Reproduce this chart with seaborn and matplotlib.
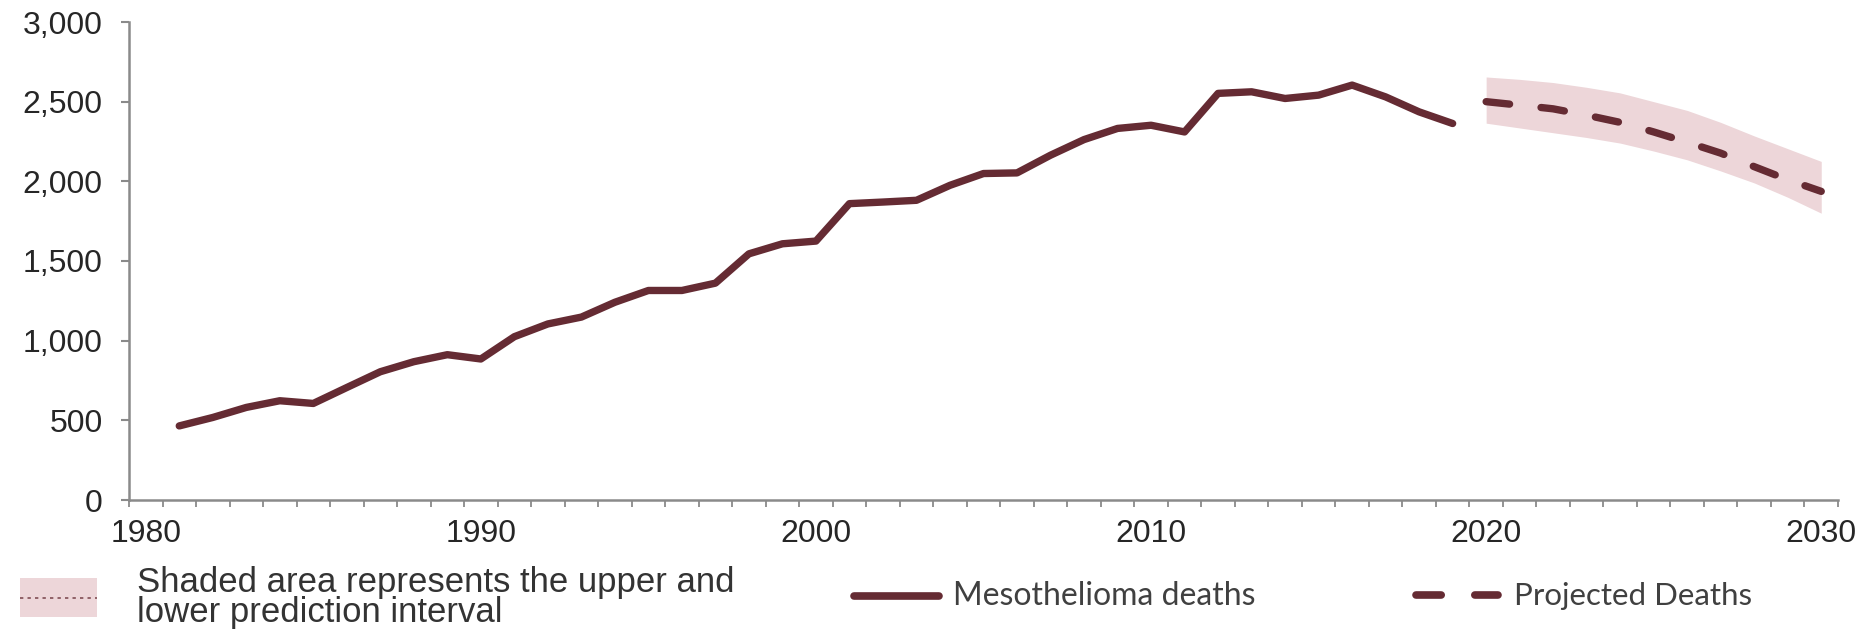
import numpy as np
import pandas as pd
import matplotlib
matplotlib.use("Agg")
import matplotlib.pyplot as plt
from matplotlib.lines import Line2D
from matplotlib.patches import Rectangle
from matplotlib.ticker import FixedLocator, FuncFormatter
import seaborn as sns

# --- data ---
years = list(range(1981, 2020))
deaths = [465, 518, 581, 623, 606, 706, 805, 868, 912, 885,
          1025, 1105, 1148, 1241, 1315, 1315, 1361, 1545, 1608, 1625,
          1860, 1870, 1881, 1975, 2049, 2053, 2164, 2262, 2332, 2352,
          2310, 2552, 2562, 2520, 2541, 2604, 2530, 2436, 2363]

proj_years = list(range(2020, 2031))
proj_deaths = [2500, 2478, 2455, 2415, 2370, 2310, 2245, 2177, 2092, 2010, 1937]
proj_upper = [2655, 2640, 2620, 2590, 2555, 2500, 2445, 2370, 2285, 2205, 2125]
proj_lower = [2365, 2335, 2305, 2275, 2240, 2190, 2135, 2065, 1990, 1900, 1800]

x_labels = [1980, 1990, 2000, 2010, 2020, 2030]
y_ticks = [0, 500, 1000, 1500, 2000, 2500, 3000]

legend_shade = ["Shaded area represents the upper and", "lower prediction interval"]
legend_hist = "Mesothelioma deaths"
legend_proj = "Projected Deaths"

LINE = "#652b33"
BAND = "#edd6d9"
AXIS = "#8a8a8a"

sns.set_style("ticks")
plt.rcParams["font.family"] = ["Liberation Sans", "DejaVu Sans"]

W, H = 1872, 635
fig = plt.figure(figsize=(W / 100, H / 100), dpi=100)
ax = fig.add_axes([129 / W, 1 - 500 / H, (1838 - 129) / W, (500 - 22) / H])


def fx(x, y):
    # pixel position -> figure fraction
    return x / W, 1 - y / H


hist = pd.DataFrame({"year": years, "deaths": deaths})
proj = pd.DataFrame({"year": proj_years, "deaths": proj_deaths,
                     "upper": proj_upper, "lower": proj_lower})

ax.fill_between(proj["year"], proj["lower"], proj["upper"], color=BAND, lw=0, zorder=1)
sns.lineplot(data=hist, x="year", y="deaths", ax=ax, color=LINE, lw=5.3,
             solid_joinstyle="round", solid_capstyle="round", zorder=3)
sns.lineplot(data=proj, x="year", y="deaths", ax=ax, color=LINE, lw=5.3, zorder=3)
pl = ax.lines[-1]
pl.set_dashes((3.2, 4.3))
pl.set_dash_capstyle("round")

ax.set_xlim(1979.5, 2030.5)
ax.set_ylim(0, 3000)
ax.set_xlabel("")
ax.set_ylabel("")

sns.despine(ax=ax)
for s in ["left", "bottom"]:
    ax.spines[s].set_color(AXIS)
    ax.spines[s].set_linewidth(1.8)

ax.xaxis.set_major_locator(FixedLocator(x_labels))
ax.xaxis.set_minor_locator(FixedLocator(np.arange(1979.5, 2031, 1.0)))
ax.set_xticklabels([str(v) for v in x_labels])
ax.yaxis.set_major_locator(FixedLocator(y_ticks))
ax.yaxis.set_major_formatter(FuncFormatter(lambda v, p: f"{int(v):,}"))

ax.tick_params(axis="x", which="major", length=0, pad=14, labelsize=23, labelcolor="#262626")
ax.tick_params(axis="x", which="minor", length=5, width=1.3, color=AXIS, direction="out")
ax.tick_params(axis="y", which="major", length=6, width=1.5, color=AXIS, pad=13,
               labelsize=23, labelcolor="#262626")

# --- legend, drawn along the bottom ---
fig.add_artist(Rectangle(fx(20, 617), 77 / W, 39 / H, transform=fig.transFigure,
                         facecolor=BAND, edgecolor="none"))
fig.add_artist(Line2D([20 / W, 97 / W], [fx(0, 598)[1]] * 2, transform=fig.transFigure,
                      color=LINE, lw=1.2, dashes=(2, 2.5), alpha=0.8))
fig.text(*fx(137, 592), legend_shade[0], fontsize=25, color="#333333", va="baseline")
fig.text(*fx(137, 622), legend_shade[1], fontsize=25, color="#333333", va="baseline")

fig.add_artist(Line2D([854 / W, 939 / W], [fx(0, 596)[1]] * 2, transform=fig.transFigure,
                      color=LINE, lw=5.5, solid_capstyle="round"))
fig.text(*fx(953, 605), legend_hist, fontsize=23, color="#404040", va="baseline",
         family=["Lato", "DejaVu Sans"])

fig.add_artist(Line2D([1416 / W, 1498 / W], [fx(0, 595)[1]] * 2, transform=fig.transFigure,
                      color=LINE, lw=5.5, dashes=(3.3, 4.4), dash_capstyle="round"))
fig.text(*fx(1514, 605), legend_proj, fontsize=22.5, color="#404040", va="baseline",
         family=["Lato", "DejaVu Sans"])

fig.savefig("out.png", dpi=100)
